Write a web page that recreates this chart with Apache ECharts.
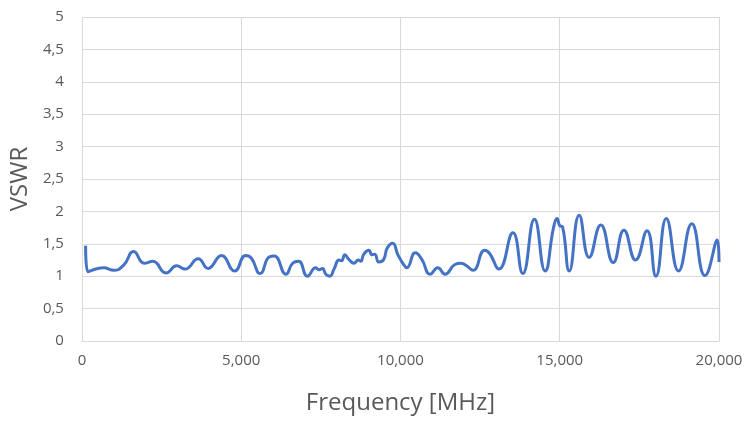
<!DOCTYPE html>
<html><head><meta charset="utf-8">
<script src="https://cdn.jsdelivr.net/npm/echarts@6/dist/echarts.min.js"></script>
<style>html,body{margin:0;padding:0;background:#fff}#c{width:748px;height:427px}</style>
</head><body><div id="c"></div>
<script>
const freq = [115,187,686,1000,1310,1622,1955,2225,2640,2975,3235,3650,3960,4380,4795,5140,5315,5595,5885,6040,6405,6615,6800,7080,7340,7445,7550,7655,7780,7915,8070,8150,8255,8380,8540,8675,8750,8850,9005,9110,9190,9320,9475,9580,9755,9920,10100,10200,10465,10670,10930,11170,11400,11710,11900,12075,12280,12645,12800,13090,13530,13840,14205,14540,14810,14915,15000,15090,15300,15610,15925,16290,16680,17015,17380,17740,18020,18345,18730,19145,19560,19945,20000];
const vswr = [1.47,1.07,1.13,1.09,1.17,1.38,1.20,1.23,1.05,1.16,1.11,1.27,1.12,1.32,1.08,1.32,1.28,1.04,1.30,1.31,1.03,1.20,1.23,1.00,1.13,1.10,1.12,1.03,1.00,1.11,1.25,1.24,1.33,1.26,1.20,1.25,1.23,1.34,1.40,1.33,1.34,1.22,1.26,1.43,1.51,1.33,1.18,1.13,1.36,1.26,1.03,1.13,1.03,1.18,1.20,1.16,1.09,1.40,1.35,1.11,1.67,1.04,1.88,1.08,1.76,1.89,1.78,1.76,1.08,1.94,1.29,1.79,1.21,1.71,1.25,1.70,1.00,1.89,1.08,1.81,1.01,1.56,1.22];
const xName = 'Frequency [MHz]', yName = 'VSWR';
const chart = echarts.init(document.getElementById('c'));
const txt = '#595959', font = 'Open Sans';
chart.setOption({
  animation:false,
  grid:{left:78,right:29,top:17,bottom:86},
  xAxis:{type:'value',min:0,max:20000,interval:5000,name:xName,nameLocation:'middle',nameGap:50,
    nameTextStyle:{fontSize:24,color:txt,fontFamily:font},
    axisLine:{show:true,lineStyle:{color:'#d9d9d9'}},axisTick:{show:false},
    axisLabel:{fontSize:15,color:txt,fontFamily:font,margin:12},
    splitLine:{lineStyle:{color:'#d9d9d9'}}},
  yAxis:{type:'value',min:0,max:5,interval:0.5,name:yName,nameLocation:'middle',nameGap:48,
    nameTextStyle:{fontSize:24,color:txt,fontFamily:font},
    axisLine:{show:false},axisTick:{show:false},
    axisLabel:{fontSize:15,color:txt,fontFamily:font,margin:18,formatter:v=>String(v).replace('.',',')},
    splitLine:{lineStyle:{color:'#d9d9d9'}}},
  series:[{type:'line',data:freq.map((f,i)=>[f,vswr[i]]),smooth:0.5,showSymbol:false,
    lineStyle:{color:'#4472C4',width:3}}]
});
</script></body></html>
